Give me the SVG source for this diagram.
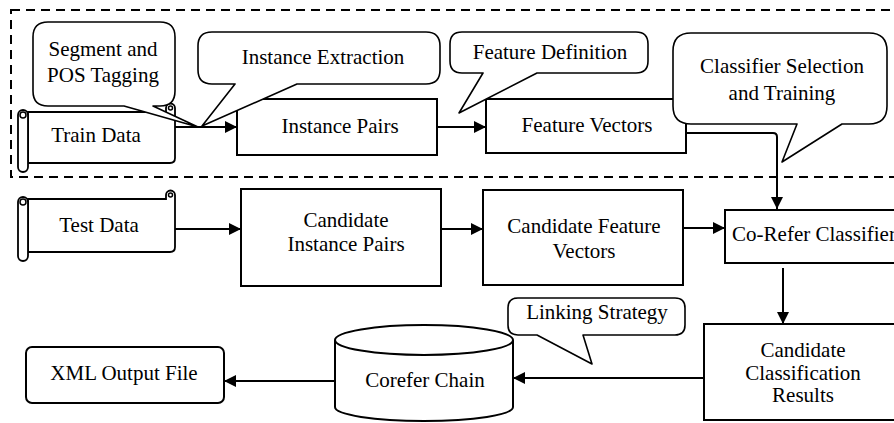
<svg xmlns="http://www.w3.org/2000/svg" width="894" height="423" viewBox="0 0 894 423">
  <defs>
    <marker id="arrow" markerWidth="13" markerHeight="12" refX="12" refY="6" orient="auto" markerUnits="userSpaceOnUse">
      <path d="M0,0 L12,6 L0,12 Z" fill="#000"/>
    </marker>
  </defs>
  <style>
    .box { fill: #fff; stroke: #000; stroke-width: 2; }
    .bubble { fill: #fff; stroke: #000; stroke-width: 1.6; stroke-linejoin: round; }
    .scroll { fill: #fff; stroke: #000; stroke-width: 1.8; }
    .curl { fill: none; stroke: #000; stroke-width: 1.5; }
    .frame { fill: none; stroke: #000; stroke-width: 2; stroke-dasharray: 9 6; }
    .conn { fill: none; stroke: #000; stroke-width: 2; }
    text { font-family: "Liberation Serif", Tinos, "Times New Roman", Times, "Noto Serif", "DejaVu Serif", FreeSerif, serif; font-size: 21px; fill: #000; text-anchor: middle; }
  </style>

  <!-- training stage boundary -->
  <rect class="frame" x="11" y="10" width="900" height="167"/>

  <!-- connectors -->
  <g id="connectors">
    <line class="conn" x1="175" y1="127" x2="237" y2="127" marker-end="url(#arrow)"/>
    <line class="conn" x1="437" y1="127" x2="486" y2="127" marker-end="url(#arrow)"/>
    <path class="conn" d="M686 133 H773 Q777 133 777 137 V209" marker-end="url(#arrow)"/>
    <line class="conn" x1="175" y1="229" x2="241" y2="229" marker-end="url(#arrow)"/>
    <line class="conn" x1="441" y1="229" x2="483" y2="229" marker-end="url(#arrow)"/>
    <line class="conn" x1="683" y1="228" x2="725" y2="228" marker-end="url(#arrow)"/>
    <line class="conn" x1="783" y1="268" x2="783" y2="324" marker-end="url(#arrow)"/>
    <line class="conn" x1="704" y1="378" x2="513" y2="378" marker-end="url(#arrow)"/>
    <line class="conn" x1="335" y1="381" x2="224" y2="381" marker-end="url(#arrow)"/>
  </g>

  <!-- training row -->
  <g id="train-data">
    <path class="scroll" d="M28 112 H166 V108 A4.5 4.5 0 0 1 175 108 V158 Q175 163 170 163 H28 Z"/>
    <rect class="scroll" x="18" y="110" width="10" height="62" rx="5"/>
    <circle class="curl" cx="23" cy="115" r="3"/>
    <circle class="curl" cx="170.5" cy="108" r="2"/>
    <text x="96" y="142">Train Data</text>
  </g>

  <g id="instance-pairs">
    <rect class="box" x="237" y="99" width="200" height="56"/>
    <text x="340" y="133">Instance Pairs</text>
  </g>

  <g id="feature-vectors">
    <rect class="box" x="486" y="99" width="200" height="54"/>
    <text x="587" y="132">Feature Vectors</text>
  </g>

  <g id="segment-pos-tagging">
    <path class="bubble" d="M48 22 H160 Q175 22 175 37 V91 Q175 106 160 106 H153 L198 127 L124 106 H48 Q33 106 33 91 V37 Q33 22 48 22 Z"/>
    <text x="103" y="56">Segment and</text>
    <text x="103" y="82">POS Tagging</text>
  </g>

  <g id="instance-extraction">
    <path class="bubble" d="M212 32 H426 Q440 32 440 46 V70 Q440 84 426 84 H297 L202 126 L235 84 H212 Q198 84 198 70 V46 Q198 32 212 32 Z"/>
    <text x="323" y="64">Instance Extraction</text>
  </g>

  <g id="feature-definition">
    <path class="bubble" d="M462 32 H636 Q648 32 648 44 V61 Q648 73 636 73 H537 L459 113 L483 73 H462 Q450 73 450 61 V44 Q450 32 462 32 Z"/>
    <text x="550" y="59">Feature Definition</text>
  </g>

  <g id="classifier-selection">
    <path class="bubble" d="M691 33 H869 Q887 33 887 51 V106 Q887 124 869 124 H842 L782 162 L797 124 H691 Q673 124 673 106 V51 Q673 33 691 33 Z"/>
    <text x="782" y="73">Classifier Selection</text>
    <text x="782" y="100">and Training</text>
  </g>

  <!-- testing row -->
  <g id="test-data">
    <path class="scroll" d="M28 199 H166 V195 A4.5 4.5 0 0 1 175 195 V247 Q175 252 170 252 H28 Z"/>
    <rect class="scroll" x="18" y="197" width="10" height="64" rx="5"/>
    <circle class="curl" cx="23" cy="202" r="3"/>
    <circle class="curl" cx="170.5" cy="195" r="2"/>
    <text x="99" y="232">Test Data</text>
  </g>

  <g id="candidate-instance-pairs">
    <rect class="box" x="241" y="189" width="200" height="97"/>
    <text x="346" y="227">Candidate</text>
    <text x="346" y="251">Instance Pairs</text>
  </g>

  <g id="candidate-feature-vectors">
    <rect class="box" x="483" y="190" width="200" height="95"/>
    <text x="584" y="233">Candidate Feature</text>
    <text x="584" y="258">Vectors</text>
  </g>

  <g id="co-refer-classifier">
    <rect class="box" x="725" y="210" width="180" height="53"/>
    <text x="814" y="241">Co-Refer Classifier</text>
  </g>

  <!-- output row -->
  <g id="classification-results">
    <rect class="box" x="704" y="324" width="200" height="96"/>
    <text x="803" y="357">Candidate</text>
    <text x="803" y="380">Classification</text>
    <text x="803" y="402">Results</text>
  </g>

  <g id="corefer-chain">
    <path class="box" d="M335 340 V407 A89 14 0 0 0 513 407 V340"/>
    <ellipse class="box" cx="424" cy="340" rx="89" ry="15"/>
    <text x="425" y="387">Corefer Chain</text>
  </g>

  <g id="linking-strategy">
    <path class="bubble" d="M518 298 H675 Q685 298 685 308 V325 Q685 335 675 335 H583 L592 364 L537 335 H518 Q508 335 508 325 V308 Q508 298 518 298 Z"/>
    <text x="597" y="319">Linking Strategy</text>
  </g>

  <g id="xml-output-file">
    <rect class="box" x="26" y="347" width="198" height="56" rx="6"/>
    <text x="124" y="380">XML Output File</text>
  </g>
</svg>
